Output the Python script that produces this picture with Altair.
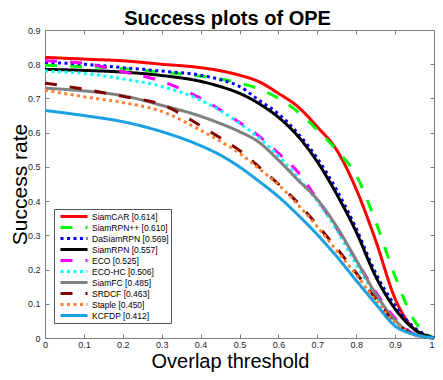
import altair as alt
import pandas as pd

thresholds = [0, 0.1, 0.2, 0.3, 0.4, 0.45, 0.5, 0.55, 0.6, 0.65, 0.7, 0.75, 0.8, 0.85, 0.9, 0.95, 1.0]
trackers = ["SiamCAR", "SiamRPN++", "DaSiamRPN", "SiamRPN", "ECO", "ECO-HC",
            "SiamFC", "SRDCF", "Staple", "KCFDP"]
auc = ["0.614", "0.610", "0.569", "0.557", "0.525", "0.506", "0.485", "0.463", "0.450", "0.412"]

siamcar   = [0.820, 0.815, 0.810, 0.800, 0.790, 0.781, 0.768, 0.749, 0.715, 0.676, 0.617, 0.549, 0.435, 0.285, 0.115, 0.025, 0.0]
siamrpnpp = [0.797, 0.793, 0.787, 0.777, 0.765, 0.757, 0.745, 0.728, 0.700, 0.661, 0.608, 0.549, 0.476, 0.340, 0.180, 0.050, 0.0]
dasiamrpn = [0.805, 0.800, 0.790, 0.780, 0.768, 0.755, 0.735, 0.695, 0.655, 0.598, 0.525, 0.432, 0.320, 0.190, 0.095, 0.030, 0.0]
siamrpn   = [0.785, 0.782, 0.777, 0.767, 0.750, 0.735, 0.715, 0.685, 0.645, 0.590, 0.515, 0.420, 0.310, 0.180, 0.085, 0.025, 0.0]
eco       = [0.810, 0.803, 0.778, 0.750, 0.700, 0.667, 0.630, 0.590, 0.540, 0.485, 0.405, 0.320, 0.228, 0.135, 0.058, 0.012, 0.0]
eco_hc    = [0.780, 0.773, 0.757, 0.735, 0.695, 0.665, 0.627, 0.585, 0.532, 0.468, 0.400, 0.315, 0.215, 0.125, 0.050, 0.012, 0.0]
siamfc    = [0.730, 0.722, 0.708, 0.680, 0.648, 0.627, 0.603, 0.572, 0.520, 0.462, 0.405, 0.325, 0.228, 0.130, 0.052, 0.010, 0.0]
srdcf     = [0.745, 0.727, 0.706, 0.682, 0.620, 0.585, 0.548, 0.500, 0.450, 0.395, 0.330, 0.262, 0.190, 0.115, 0.045, 0.010, 0.0]
staple    = [0.724, 0.705, 0.688, 0.662, 0.607, 0.575, 0.540, 0.495, 0.448, 0.390, 0.325, 0.255, 0.185, 0.110, 0.045, 0.008, 0.0]
kcfdp     = [0.665, 0.650, 0.632, 0.603, 0.562, 0.535, 0.500, 0.458, 0.413, 0.360, 0.302, 0.238, 0.168, 0.100, 0.035, 0.010, 0.0]

series = [siamcar, siamrpnpp, dasiamrpn, siamrpn, eco, eco_hc, siamfc, srdcf, staple, kcfdp]

colors = ["#FF0000", "#00FF00", "#0000FF", "#000000", "#FF00FF", "#00FFFF",
          "#808080", "#800000", "#FF8030", "#1BA1E2"]
dashes = [[1, 0], [12, 13], [3, 3.5], [1, 0], [12, 13], [3, 3.5],
          [1, 0], [12, 13], [3, 3.5], [1, 0]]
widths = [3, 3, 3, 3, 3, 3, 3, 3, 3, 4]

x_ticks = [0, 0.1, 0.2, 0.3, 0.4, 0.5, 0.6, 0.7, 0.8, 0.9, 1.0]
y_ticks = [0, 0.1, 0.2, 0.3, 0.4, 0.5, 0.6, 0.7, 0.8, 0.9]

# trailing en spaces only widen the legend box like the MATLAB legend
labels = [f"{t} [{a}]" + "\u2002" * 5 for t, a in zip(trackers, auc)]
rows = []
for i, (lab, vals) in enumerate(zip(labels, series)):
    for x, y in zip(thresholds, vals):
        rows.append({"tracker": lab, "order": i, "threshold": x, "rate": y})
df = pd.DataFrame(rows)

FONT = "Liberation Sans"
TICK_COLOR = "#808080"

legend = alt.Legend(
    orient="none", legendX=9, legendY=179, title=None,
    symbolType="stroke", symbolSize=729, clipHeight=11.0, rowPadding=0,
    labelFontSize=8.5, labelFont=FONT, labelColor="black", labelOffset=3,
    padding=2, symbolOffset=3, strokeColor="#555555", fillColor="white",
    symbolStrokeWidth=3, symbolFillColor="transparent", labelLimit=300,
)

xscale = alt.Scale(domain=[0, 1], nice=False, zero=False)
yscale = alt.Scale(domain=[0, 0.9], nice=False, zero=False)

lines = alt.Chart(df).mark_line(interpolate="monotone").encode(
    x=alt.X("threshold:Q", scale=xscale,
            axis=alt.Axis(orient="bottom", values=x_ticks, format="~g", offset=-4, tickSize=4,
                          domain=False, grid=False, labelPadding=2, labelFontSize=9,
                          labelFont=FONT, labelColor="#262626", tickColor=TICK_COLOR,
                          labelFlush=False,
                          labelAlign={"condition": {"test": "datum.value >= 1", "value": "right"},
                                      "value": "center"},
                          title="Overlap threshold", titleFont=FONT, titleFontSize=20,
                          titleFontWeight="normal", titleColor="black",
                          titleX=185, titleY=33, titleAlign="center", titleBaseline="alphabetic")),
    y=alt.Y("rate:Q", scale=yscale,
            axis=alt.Axis(orient="left", values=y_ticks, format="~g", offset=-4, tickSize=4,
                          domain=False, grid=False, labelPadding=5, labelFontSize=9,
                          labelFont=FONT, labelColor="#262626", tickColor=TICK_COLOR,
                          labelFlush=False,
                          title="Success rate", titleFont=FONT, titleFontSize=21,
                          titleFontWeight="normal", titleColor="black", titleAngle=270,
                          titleX=-22.5, titleY=154, titleAlign="center", titleBaseline="alphabetic")),
    color=alt.Color("tracker:N", scale=alt.Scale(domain=labels, range=colors), legend=legend),
    strokeDash=alt.StrokeDash("tracker:N", scale=alt.Scale(domain=labels, range=dashes), legend=legend),
    strokeWidth=alt.StrokeWidth("tracker:N", scale=alt.Scale(domain=labels, range=widths), legend=legend),
    detail="order:O",
)

frame_axes = alt.Chart(df).mark_point(opacity=0).encode(
    x=alt.X("threshold:Q", scale=xscale,
            axis=alt.Axis(orient="top", values=x_ticks, offset=-4, tickSize=4, labels=False,
                          domain=False, grid=False, tickColor=TICK_COLOR, title=None)),
    y=alt.Y("rate:Q", scale=yscale,
            axis=alt.Axis(orient="right", values=y_ticks, offset=-4, tickSize=4, labels=False,
                          domain=False, grid=False, tickColor=TICK_COLOR, title=None)),
)

chart = alt.layer(lines, frame_axes).resolve_axis(x="independent", y="independent").properties(
    width=389, height=308,
    padding={"left": 37, "top": 22, "right": 1, "bottom": 34},
    autosize=alt.AutoSizeParams(type="none"),
    title=alt.Title("Success plots of OPE", fontSize=20, fontWeight="bold", font=FONT,
                    anchor="middle", frame="group", dx=-12, offset=0, dy=2.5,
                    color="black"),
).configure_view(stroke=TICK_COLOR, strokeWidth=1)

chart.save("out.html", embed_options={"renderer": "svg", "actions": False})
